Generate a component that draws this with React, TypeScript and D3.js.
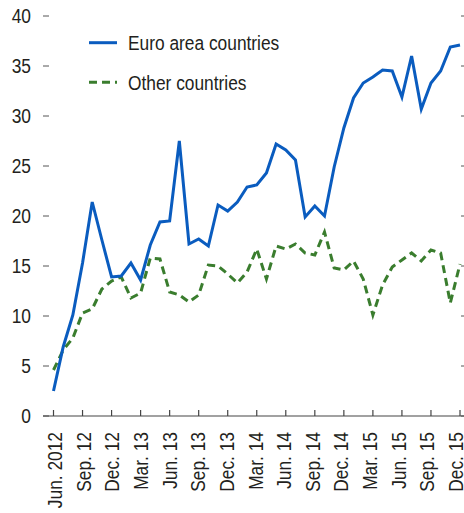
import React from "react";
import * as d3 from "d3";

const months: number[] = d3.range(43);

const euroArea: number[] = [
  2.5, 6.9, 10.1, 15.3, 21.4, 17.6, 13.9, 14.0, 15.3, 13.6,
  17.1, 19.4, 19.5, 27.5, 17.2, 17.7, 17.0, 21.1, 20.5, 21.4,
  22.9, 23.1, 24.3, 27.2, 26.6, 25.6, 19.9, 21.0, 20.0, 24.9,
  28.8, 31.8, 33.3, 33.9, 34.6, 34.5, 31.9, 36.0, 30.7, 33.3,
  34.5, 36.9, 37.1,
];

const otherCountries: number[] = [
  4.6, 6.6, 7.8, 10.3, 10.7, 12.7, 13.5, 13.9, 11.8, 12.3,
  15.8, 15.7, 12.4, 12.1, 11.4, 12.1, 15.1, 15.0, 14.2, 13.3,
  14.4, 16.7, 13.7, 17.0, 16.7, 17.2, 16.3, 16.1, 18.4, 14.8,
  14.6, 15.5, 13.7, 10.1, 13.1, 14.9, 15.6, 16.3, 15.5, 16.6,
  16.3, 11.3, 15.2,
];

const xTickIndex: number[] = [0, 3, 6, 9, 12, 15, 18, 21, 24, 27, 30, 33, 36, 39, 42];
const xTickLabels: string[] = [
  "Jun. 2012", "Sep. 12", "Dec. 12", "Mar. 13", "Jun. 13", "Sep. 13", "Dec. 13",
  "Mar. 14", "Jun. 14", "Sep. 14", "Dec. 14", "Mar. 15", "Jun. 15", "Sep. 15", "Dec. 15",
];
const yTicks: number[] = [0, 5, 10, 15, 20, 25, 30, 35, 40];

const seriesNames: string[] = ["Euro area countries", "Other countries"];

const BLUE = "#0a5cbf";
const GREEN = "#3a7d2e";
const TEXT = "#231f20";
const FONT = "'Liberation Sans', Arial, sans-serif";
const FS = 19.5;
const SX = 0.89;

export default function App() {
  const W = 464, H = 513;
  const x = d3.scaleLinear().domain([0, 42]).range([53.5, 460]);
  const y = d3.scaleLinear().domain([0, 40]).range([416, 16]);
  // label centres are spread slightly tighter than the ticks
  const xl = d3.scaleLinear().domain([0, 42]).range([55, 456]);

  const line = d3
    .line<number>()
    .x((_, i) => x(months[i]))
    .y((d) => y(d));

  return (
    <svg
      width={W}
      height={H}
      style={{ position: "absolute", left: 0, top: 0, background: "#fff" }}
      fontFamily={FONT}
    >
      {/* y ticks and labels */}
      {yTicks.map((t) => (
        <g key={t}>
          <line x1={43} x2={49} y1={y(t)} y2={y(t)} stroke="#555" strokeWidth={1} />
          <line x1={461} x2={464} y1={y(t)} y2={y(t)} stroke="#555" strokeWidth={1} />
          <text
            transform={`translate(31,${y(t)}) scale(${SX},1)`}
            dy="0.36em"
            textAnchor="end"
            fontSize={FS}
            fill={TEXT}
          >
            {t}
          </text>
        </g>
      ))}

      {/* x axis */}
      <line x1={43} x2={464} y1={y(0)} y2={y(0)} stroke="#444" strokeWidth={1.2} />
      {xTickIndex.map((m, i) => (
        <g key={m}>
          <line x1={x(m)} x2={x(m)} y1={y(0)} y2={y(0) - 6} stroke="#444" strokeWidth={1.2} />
          <text
            transform={`translate(${xl(m)},${432}) rotate(-90) scale(${SX},1)`}
            dy="0.36em"
            textAnchor="end"
            fontSize={FS}
            fill={TEXT}
          >
            {xTickLabels[i]}
          </text>
        </g>
      ))}

      {/* series */}
      <path d={line(otherCountries) || ""} fill="none" stroke={GREEN} strokeWidth={3} strokeDasharray="8,5" />
      <path d={line(euroArea) || ""} fill="none" stroke={BLUE} strokeWidth={3} />

      {/* legend */}
      <line x1={89} x2={117} y1={42.7} y2={42.7} stroke={BLUE} strokeWidth={3} />
      <text transform={`translate(128,50) scale(${SX},1)`} fontSize={FS} fill={TEXT}>{seriesNames[0]}</text>
      <line x1={89} x2={117} y1={82.3} y2={82.3} stroke={GREEN} strokeWidth={3} strokeDasharray="8,5" />
      <text transform={`translate(128,90) scale(${SX},1)`} fontSize={FS} fill={TEXT}>{seriesNames[1]}</text>
    </svg>
  );
}
